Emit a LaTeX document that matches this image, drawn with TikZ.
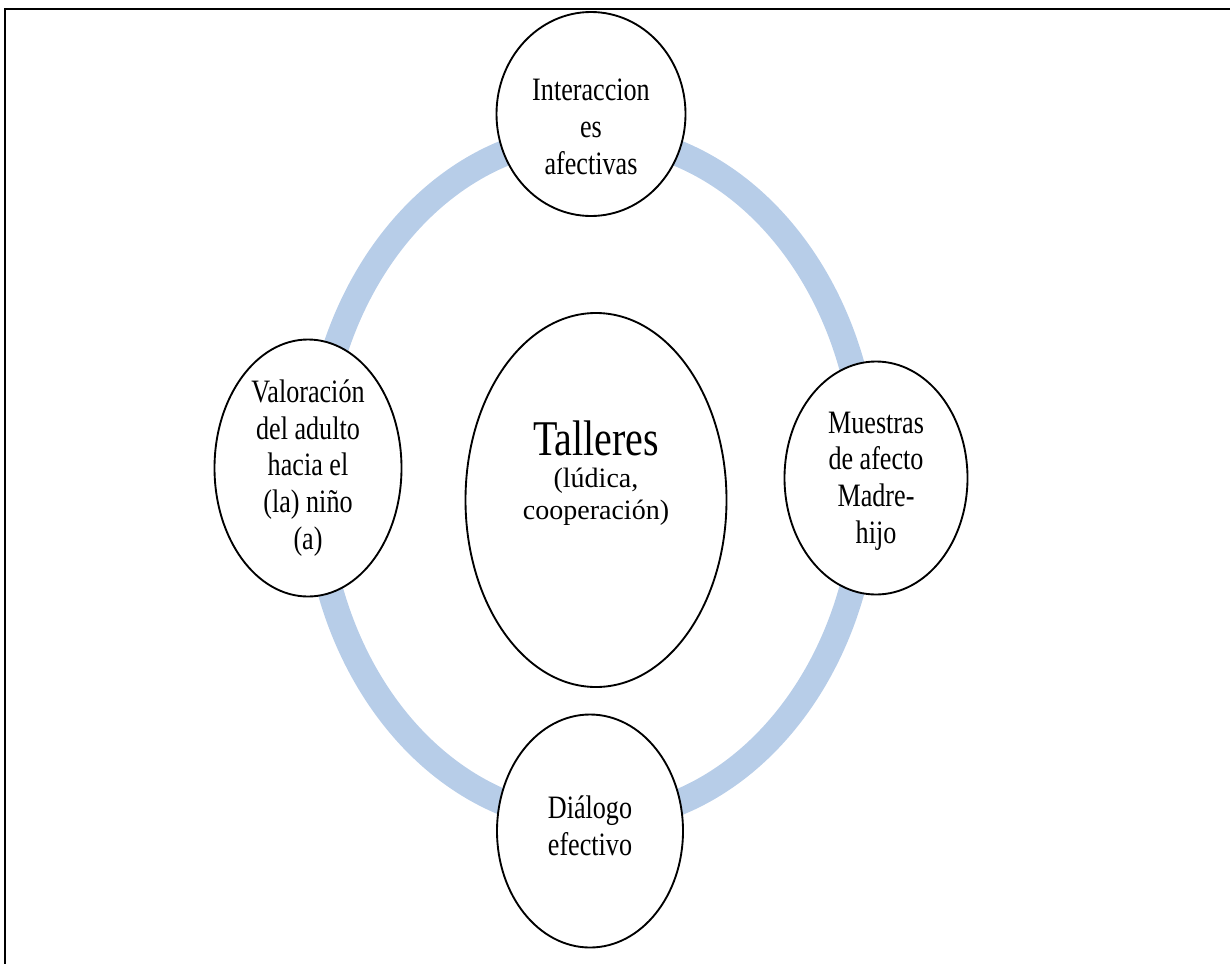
\documentclass[tikz,border=0pt]{standalone}
\usepackage{fontspec}
\setmainfont{Liberation Serif}[FakeStretch=0.8]
\newfontfamily\plainserif{Liberation Serif}
\usetikzlibrary{shapes.geometric,calc}
\definecolor{ringblue}{HTML}{B7CDE8}
\tikzset{
  bub/.style={draw=black, line width=1.4pt, ellipse, fill=white, inner sep=0pt},
  lbl/.style={align=center, font=\fontsize{24.5}{27.5}\selectfont, inner sep=0pt},
  ring/.style={draw=ringblue, line width=19.5pt},
  frame/.style={draw=black, line width=1.6pt}
}
\begin{document}
\begin{tikzpicture}[x=0.75pt,y=-0.75pt]
\useasboundingbox (0,0) rectangle (1230,964);
% frame (only top and left edges visible)
\coordinate (fTL) at (5,9);
\coordinate (fTR) at (1230,9);
\coordinate (fBL) at (5,964);
\draw[frame] (fTR) -- (fTL) -- (fBL);
% ring
\coordinate (rc) at (591,478);
\draw[ring] (rc) ellipse [x radius=207pt, y radius=256.5pt];
% ellipses
\node[bub, minimum width=141.75pt, minimum height=153pt] (top) at (591,114) {};
\node[bub, minimum width=140.25pt, minimum height=192.75pt] (left) at (308,468) {};
\node[bub, minimum width=137.25pt, minimum height=174.75pt] (right) at (876,478) {};
\node[bub, minimum width=139.5pt, minimum height=174.75pt] (bottom) at (590,831) {};
\node[bub, minimum width=195.75pt, minimum height=280.5pt] (center) at (596,500) {};
% texts
\node[lbl] (ttop) at ($(top)+(0,13)$) {Interaccion\\es\\afectivas};
\node[lbl] (tleft) at (left) {Valoración\\del adulto\\hacia el\\(la) niño\\(a)};
\node[lbl] (tright) at ($(right)+(0,3)$) {Muestras\\de afecto\\Madre-\\hijo};
\node[lbl] (tbottom) at ($(bottom)+(0,-5)$) {Diálogo\\efectivo};
\node[lbl] (tcenter) at ($(center)+(0,-27)$) {{\fontsize{37.5}{36}\selectfont Talleres}\\[-4pt]{\plainserif\fontsize{21}{24.5}\selectfont (lúdica,}\\[-3.5pt]{\plainserif\fontsize{21}{24.5}\selectfont cooperación)}};
\end{tikzpicture}
\end{document}
